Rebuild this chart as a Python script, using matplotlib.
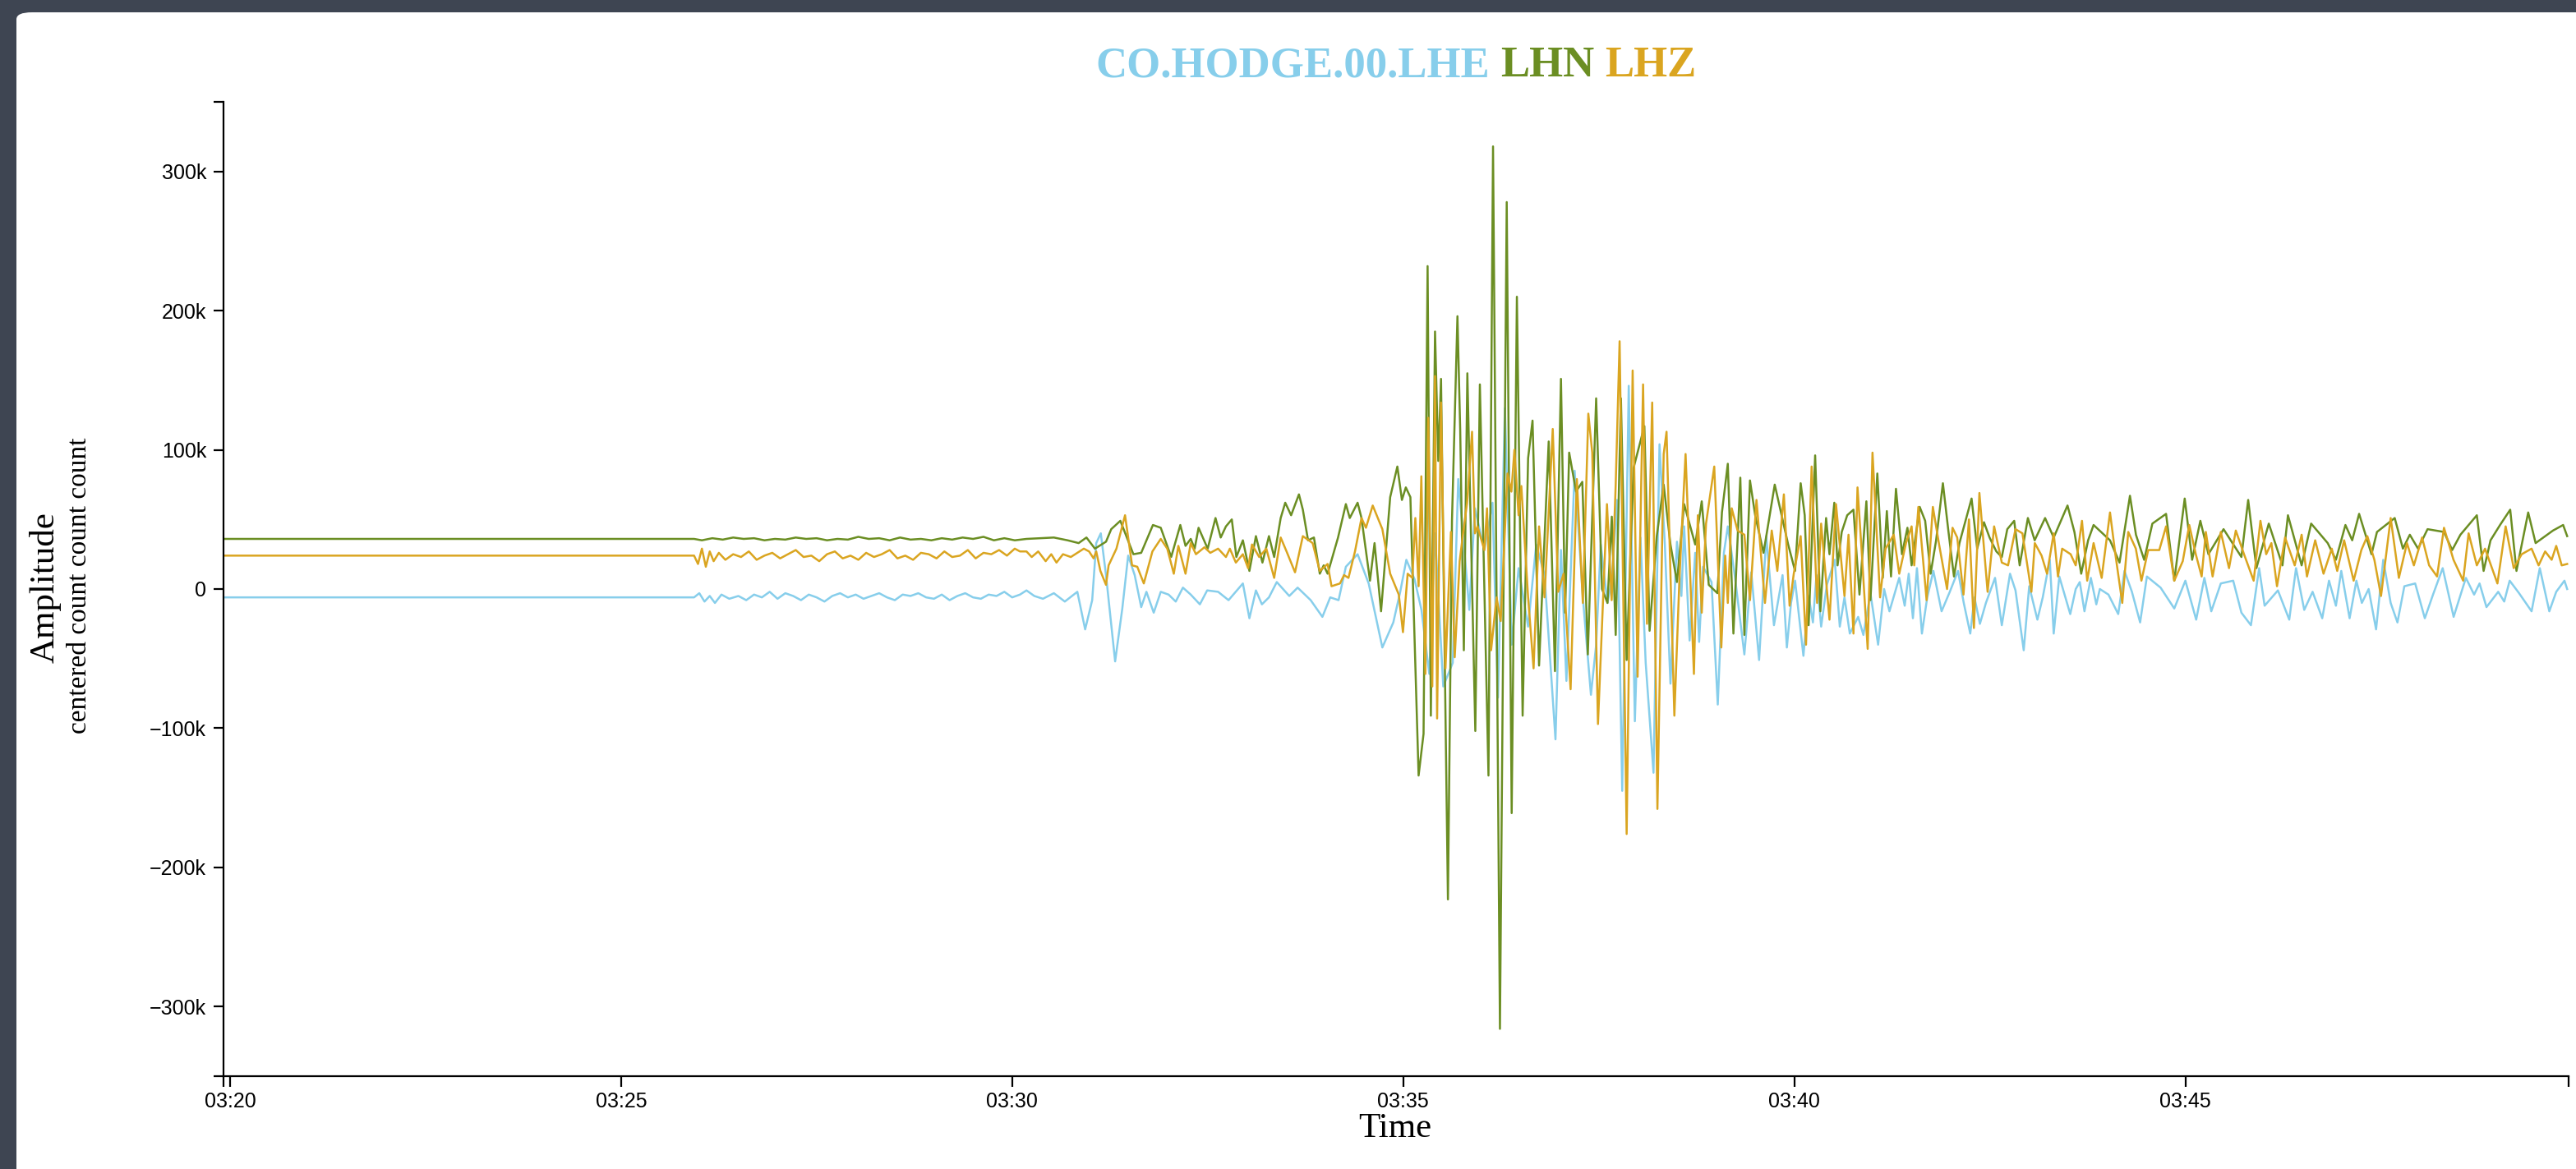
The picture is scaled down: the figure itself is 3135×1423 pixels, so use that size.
import matplotlib
matplotlib.use("Agg")
import matplotlib.pyplot as plt
import matplotlib.dates as mdates
from matplotlib.patches import FancyBboxPatch
from matplotlib.ticker import FuncFormatter, FixedLocator
from datetime import datetime, timedelta
import numpy as np

# seconds after 03:20:00, amplitudes in thousands of counts
lhe_t = [
    -5, 356, 360, 364, 368, 372, 377, 383, 390, 396,
    402, 408, 414, 420, 426, 432, 438, 444, 450, 456,
    462, 468, 474, 480, 486, 492, 498, 504, 510, 516,
    522, 528, 534, 540, 546, 552, 558, 564, 570, 576,
    582, 588, 594, 600, 606, 611, 617, 623.6, 632, 640.4,
    650, 656, 661.4, 664.5, 668, 672, 679, 684.5, 689, 694,
    699, 703, 708.6, 714, 720, 725.5, 731, 737, 744, 749.6,
    758, 766, 777, 782, 787, 791.6, 797, 803, 812.6, 819,
    829, 838, 844, 850.4, 856, 865, 873.5, 884, 892.4, 897.7,
    902.4, 908.7, 914, 920, 924.4, 930.7, 938, 942.2, 945.4, 950.7,
    955, 962.2, 968.5, 972.7, 978, 983.2, 988.5, 995.8, 1002, 1008.4,
    1016.8, 1021, 1025.2, 1031.5, 1037.8, 1044, 1048, 1051.5, 1056.7, 1060,
    1064, 1068, 1073, 1077.7, 1082, 1086, 1092, 1096.6, 1100.7, 1105,
    1110, 1113.4, 1115.5, 1119.7, 1124, 1127, 1130, 1136.5, 1141.3, 1146,
    1149, 1154.3, 1161.7, 1167, 1173, 1178.5, 1184.4, 1191, 1194.3, 1197.5,
    1200.6, 1207, 1211, 1214.3, 1217, 1220.6, 1225, 1231, 1234.9, 1238.5,
    1242.6, 1249, 1253, 1258.4, 1264.3, 1268.9, 1273, 1280.5, 1284.7, 1287.8,
    1291, 1294.1, 1297.9, 1302, 1306.7, 1313, 1319.3, 1325.6, 1330, 1335,
    1338.2, 1342.4, 1347, 1354, 1359.2, 1365.5, 1369.7, 1376, 1380.2, 1386.5,
    1390.6, 1396, 1399, 1403.3, 1411.7, 1415.9, 1419, 1422.6, 1427.5, 1431.7,
    1434.4, 1441, 1448.5, 1453.3, 1459, 1465.3, 1470.5, 1481, 1491.5, 1500,
    1508.3, 1514.6, 1519.9, 1527.2, 1536.7, 1543, 1550.3, 1556.6, 1560.8, 1571,
    1579.7, 1584.9, 1591.2, 1597.6, 1605, 1610.2, 1615.5, 1619.6, 1626, 1631.2,
    1635.4, 1640.6, 1646.3, 1651.8, 1657.5, 1662.7, 1668, 1676.3, 1683.7, 1690,
    1697.4, 1705.8, 1715.2, 1721.5, 1725.7, 1731, 1740, 1744.6, 1748.8, 1756,
    1765.6, 1771.9, 1779.2, 1784.5, 1790.8, 1792.9]
lhe_v = [
    -6, -6, -3, -9, -5, -10, -4, -7, -5, -8,
    -4, -6, -2, -7, -3, -5, -8, -4, -6, -9,
    -5, -3, -6, -4, -7, -5, -3, -6, -8, -4,
    -5, -3, -6, -7, -4, -8, -5, -3, -6, -7,
    -4, -5, -2, -6, -4, -1, -5, -7, -3, -9,
    -2, -29, -8, 33, 40, 10, -52, -14, 24, 10,
    -13, -2, -17, -2, -4, -9, 1, -4, -11, -1,
    -2, -8, 4, -21, -1, -11, -6, 5, -5, 1,
    -8, -20, -6, -8, 16, 25, 4, -42, -24, -2,
    21, 7, -15, -61, 40, -70, -53, 79, 45, -15,
    58, 28, 62, -78, 130, -40, 15, -27, 32, 10,
    -108, 28, -66, 85, -6, -76, -40, 32, -10, 6,
    64, -145, 146, -95, 37, -53, -132, 104, 32, -68,
    34, -5, 45, -37, 26, -38, 16, 5, -83, 26,
    45, 10, -47, 12, -51, 38, -26, 10, -42, -10,
    6, -48, -5, -24, 10, -27, 3, 21, -27, -6,
    -32, -20, -33, -3, -40, 0, -16, 8, -12, 11,
    -21, 15, -32, -6, 13, -16, -2, 13, -10, -32,
    -6, -25, -10, 8, -26, 11, -1, -44, 2, -22,
    -6, 21, -32, 9, -18, 0, 5, -16, 8, -11,
    0, -4, -18, 13, -2, -24, 9, 1, -14, 6,
    -22, 8, -16, 4, 6, -17, -26, 15, -12, -1,
    -22, 15, -15, -2, -21, 6, -12, 13, -21, 6,
    -10, 0, -29, 21, -10, -24, 2, 4, -21, -4,
    15, -20, 8, -4, 4, -13, -2, -9, 6, -3,
    -16, 15, -16, -2, 6, 0]

lhn_t = [
    -5, 356, 362, 370, 378, 386, 394, 402, 410, 418,
    426, 434, 442, 450, 458, 466, 474, 482, 490, 498,
    506, 514, 522, 530, 538, 546, 554, 562, 570, 578,
    586, 594, 602, 611, 632, 642.5, 651, 657, 663.5, 672,
    676, 683, 693, 699, 708, 714, 722, 729, 733, 737,
    740, 743, 750, 756, 760, 764, 768.5, 772, 777, 782,
    787, 792, 797, 801, 806, 809.5, 814, 820, 823, 827,
    831.5, 836, 839, 842, 850, 856, 859, 865, 868, 874.5,
    878, 883, 890, 895.5, 899, 902, 905.5, 911.8, 915.6, 918.7,
    921.2, 924.4, 926.9, 929, 931, 934.3, 937.4, 941.6, 943.7, 946.5,
    949.2, 955.3, 958.8, 965.4, 968.9, 974.2, 979.4, 983.2, 987.2, 991.6,
    995.8, 999.2, 1004.2, 1011.6, 1016.4, 1021, 1024.2, 1027.3, 1032.6, 1037.4,
    1041.6, 1048, 1052.5, 1056.7, 1060, 1063, 1067, 1071.4, 1076.7, 1085,
    1089, 1094.5, 1099.8, 1105, 1110, 1115.5, 1124, 1129, 1134.4, 1141,
    1144.5, 1149, 1153.3, 1158.6, 1161.7, 1166, 1170, 1176.4, 1185, 1195.3,
    1200.6, 1204.9, 1208, 1211, 1216, 1220, 1224.4, 1227, 1230.7, 1233.2,
    1236.4, 1240.6, 1245.4, 1250, 1255.3, 1258.4, 1263.7, 1267.9, 1271, 1274.2,
    1278, 1282.6, 1286.8, 1290, 1296.2, 1300.4, 1304.6, 1308.8, 1314, 1318.3,
    1322.5, 1326.7, 1336, 1340.3, 1345.5, 1349.8, 1355, 1359.2, 1363.4, 1368.7,
    1372.9, 1379.2, 1384.4, 1392.4, 1399, 1409.6, 1414.9, 1420.1, 1425.4, 1429.6,
    1442.2, 1449.5, 1457.5, 1462.1, 1468.4, 1474.7, 1485.2, 1491.5, 1499.5, 1505.2,
    1511.5, 1517.7, 1529.3, 1543, 1548.2, 1554.5, 1564, 1574.5, 1578.7, 1589.2,
    1596.5, 1609.2, 1615.5, 1622.8, 1628, 1633.3, 1642.8, 1647, 1660.6, 1666.9,
    1672.2, 1678.5, 1685.8, 1698.4, 1704.7, 1711, 1723.6, 1728.8, 1734.1, 1741.4,
    1749.2, 1754, 1763, 1768.7, 1782, 1789.8, 1792.9]
lhn_v = [
    36, 36, 35, 36.5, 35.5, 37, 36, 36.5, 35, 36,
    35.5, 37, 36, 36.5, 35, 36, 35.5, 37.5, 36, 36.5,
    35, 37, 35.5, 36, 35, 36.5, 35.5, 37, 36, 37.5,
    35, 36.5, 35, 36, 37, 35, 33, 37, 29, 34,
    43, 49, 25, 26, 46, 44, 23, 46, 31, 36,
    29, 44, 29, 51, 37, 45, 50, 23, 35, 13,
    38, 19, 38, 23, 51, 62, 53, 68, 57, 35,
    37, 11, 17, 11, 37, 61, 51, 62, 51, 6,
    33, -16, 66, 88, 64, 73, 66, -134, -104, 232,
    -91, 185, 92, 151, 11, -223, 49, 196, 115, -44,
    155, -102, 147, -134, 318, -316, 278, -161, 210, -91,
    94, 121, -55, 106, -59, 151, -17, 98, 70, 77,
    -47, 137, 0, -10, 52, -33, 137, -51, 87, 117,
    -30, 38, 75, 32, 5, 61, 32, 63, 3, -3,
    55, 90, -32, 80, -33, 78, 53, 26, 75, 32,
    13, 76, 53, -26, 96, -16, 51, 25, 62, 17,
    41, 53, 57, -4, 63, -8, 83, 8, 56, 9,
    72, 25, 44, 17, 59, 49, 11, 35, 76, 41,
    9, 33, 65, 29, 48, 37, 27, 23, 43, 49,
    17, 51, 35, 51, 37, 60, 41, 11, 35, 46,
    35, 19, 67, 39, 21, 47, 54, 6, 65, 21,
    49, 25, 43, 23, 64, 15, 47, 17, 53, 17,
    47, 33, 21, 46, 35, 54, 25, 41, 51, 29,
    39, 29, 43, 41, 28, 39, 53, 13, 35, 46,
    57, 13, 55, 33, 42, 46, 38]

lhz_t = [
    -5, 356, 359, 362, 365, 368, 371, 375, 380, 386,
    392, 398, 404, 410, 416, 422, 428, 434, 440, 446,
    452, 458, 464, 470, 476, 482, 488, 494, 500, 506,
    512, 518, 524, 530, 536, 542, 548, 554, 560, 566,
    572, 578, 584, 590, 596, 602, 606, 611, 615, 620,
    625.7, 630, 634, 639, 645, 655, 659, 662.5, 664.5, 667.7,
    672, 674, 680, 686.6, 692, 696, 701, 707.6, 714, 719,
    724, 727.5, 733, 737, 741, 747.5, 752, 758, 764, 767,
    771.6, 777, 781, 784, 789.5, 795, 801, 806, 810.5, 817,
    823, 830.5, 836, 842, 845, 851.5, 854.6, 858, 863, 868,
    871.4, 876.6, 884, 890, 896.6, 899.8, 903.4, 907, 909.3, 911.8,
    913.9, 917, 919.2, 922.3, 924.4, 926, 929, 932.4, 936.6, 939.5,
    943.3, 945.4, 949, 952.8, 955, 957, 962.2, 964.3, 967.4, 971.6,
    974.8, 980, 983, 985.3, 988.5, 990.6, 995.8, 1000, 1004.2, 1008.4,
    1014.7, 1018.9, 1023, 1028.4, 1033.2, 1037.8, 1042, 1045, 1049.4, 1056.3,
    1059.9, 1063, 1066, 1071.4, 1076, 1079.8, 1084, 1087, 1091, 1095,
    1099.8, 1102, 1108, 1112, 1116.6, 1123, 1126, 1129, 1132.3, 1138.6,
    1144, 1147, 1149, 1152, 1156.5, 1161.7, 1166, 1171, 1177.5, 1182.7,
    1187, 1192, 1196.4, 1199.6, 1204.9, 1209, 1213.3, 1217.5, 1220.6, 1227,
    1232, 1236, 1238.5, 1241.6, 1245.4, 1248.5, 1251.7, 1256.3, 1260, 1265.8,
    1270, 1276.3, 1280.5, 1285.7, 1290, 1292, 1295.2, 1301.5, 1306.3, 1310.9,
    1317.2, 1321.4, 1325, 1329.8, 1334, 1337.8, 1342, 1348.3, 1353.3, 1359.2,
    1364, 1369.7, 1375, 1381.9, 1384.5, 1389.7, 1393.9, 1399, 1402.3, 1405.5,
    1412, 1415.9, 1420.7, 1424.7, 1429.6, 1435.8, 1442.2, 1446.3, 1451.6, 1456.2,
    1462, 1466.3, 1471.5, 1480, 1485.2, 1491.5, 1498, 1503, 1508, 1512.5,
    1515.7, 1520.9, 1527.2, 1533.5, 1538.7, 1545, 1552.4, 1557.6, 1562, 1566,
    1570.3, 1576.5, 1583.9, 1589.2, 1593.3, 1599.6, 1606, 1612.3, 1616.5, 1621.8,
    1629.1, 1635, 1639.6, 1645, 1650.1, 1657.5, 1663.8, 1670, 1675.3, 1681.6,
    1687, 1693.1, 1698.4, 1705.7, 1713.1, 1717.3, 1723.6, 1729.9, 1739.4, 1745.7,
    1751.9, 1758, 1765.6, 1771, 1776, 1781, 1784.5, 1788.7, 1792.9]
lhz_v = [
    24, 24, 18, 29, 16, 27, 20, 26, 21, 25,
    23, 27, 21, 24, 26, 22, 25, 28, 23, 24,
    20, 25, 27, 22, 24, 21, 26, 23, 25, 28,
    22, 24, 21, 26, 25, 22, 27, 23, 24, 28,
    22, 26, 25, 28, 24, 29, 27, 27, 23, 27,
    20, 25, 19, 25, 23, 29, 27, 22, 27, 13,
    3, 17, 29, 53, 17, 16, 4, 27, 36, 29,
    11, 31, 11, 33, 25, 30, 26, 29, 23, 29,
    19, 25, 15, 32, 23, 29, 8, 37, 27, 12,
    38, 33, 13, 18, 2, 4, 10, 8, 27, 51,
    44, 60, 43, 11, -4, -31, 11, 8, 51, 2,
    81, -61, 123, -70, 153, -93, 134, -57, 41, -49,
    20, 36, 62, 113, 40, 45, 28, 58, -44, -6,
    -23, 83, 70, 100, 53, 74, -6, -57, 45, -6,
    115, -2, 11, -72, 79, -10, 126, 98, -97, 61,
    -8, 75, 178, -176, 157, -63, 147, -25, 134, -158,
    97, 113, -91, 10, 97, -61, 53, -17, 47, 88,
    -42, 24, -10, 58, 42, 39, -8, 64, -10, 42,
    13, 68, -12, 11, 38, -40, 88, -10, 47, -22,
    61, 20, -5, 39, -32, 73, 27, -43, 98, -6,
    29, 39, 11, 33, 45, 17, 59, -8, 59, 33,
    0, 44, 37, -4, 50, -28, 69, -2, 45, 19,
    17, 43, 40, -2, 33, 24, 11, 40, 9, 29,
    25, 17, 49, 6, 33, 8, 55, 25, -10, 41,
    29, 6, 28, 28, 45, 6, 20, 46, 25, 9,
    41, 9, 41, 15, 42, 25, 6, 49, 25, 33,
    2, 37, 17, 39, 9, 35, 11, 29, 13, 35,
    6, 28, 38, 21, -5, 51, 8, 33, 17, 37,
    17, 9, 44, 21, 6, 40, 17, 29, 4, 45,
    15, 25, 29, 17, 27, 21, 31, 17, 18]

channels = ["CO.HODGE.00.LHE", "LHN", "LHZ"]
colors = ["#87CEEB", "#6B8E23", "#DAA520"]
start = datetime(2020, 1, 1, 3, 20, 0)
x_range = (-5, 1794)
y_range = (-350000, 350000)

def to_time(secs):
    return [start + timedelta(seconds=s) for s in secs]

fig = plt.figure(figsize=(31.35, 14.23), dpi=100)
fig.patch.set_facecolor("#3e4552")
card = FancyBboxPatch((20 / 3135, -0.05), 1.1, 1.05 - 15 / 1423,
                      boxstyle="round,pad=0,rounding_size=0.006",
                      transform=fig.transFigure, facecolor="white",
                      edgecolor="none", zorder=-5)
fig.add_artist(card)

ax = fig.add_axes([272 / 3135, 1 - 1310 / 1423, (3126 - 272) / 3135, (1310 - 124) / 1423])
ax.set_facecolor("none")

for t, v, c in [(lhe_t, lhe_v, colors[0]), (lhn_t, lhn_v, colors[1]), (lhz_t, lhz_v, colors[2])]:
    ax.plot(to_time(t), np.array(v) * 1000, color=c, lw=1.8)

ax.set_xlim(to_time(x_range))
ax.set_ylim(*y_range)

ax.xaxis.set_major_locator(mdates.MinuteLocator(byminute=range(0, 60, 5)))
ax.xaxis.set_major_formatter(mdates.DateFormatter("%H:%M"))
ax.xaxis.set_minor_locator(FixedLocator(mdates.date2num(to_time(x_range))))
ax.set_yticks(np.arange(-300000, 300001, 100000))
ax.yaxis.set_minor_locator(FixedLocator(list(y_range)))

def kfmt(v, pos):
    if v == 0:
        return "0"
    s = "%dk" % abs(round(v / 1000))
    return ("\u2212" + s) if v < 0 else s

ax.yaxis.set_major_formatter(FuncFormatter(kfmt))

for side in ["top", "right"]:
    ax.spines[side].set_visible(False)
for side in ["left", "bottom"]:
    ax.spines[side].set_linewidth(1.6)

ax.tick_params(which="both", direction="out", length=9, width=1.6, color="black")
ax.tick_params(axis="y", which="major", pad=6, labelsize=18)
ax.tick_params(axis="x", which="major", pad=5, labelsize=18)
for lab in ax.get_xticklabels() + ax.get_yticklabels():
    lab.set_family("Liberation Sans")

# axis titles
serif = "Liberation Serif"
fig.text(55 / 3135, 1 - 715 / 1423, "Amplitude", rotation=90, ha="center", va="center",
         family=serif, fontsize=31)
fig.text(97 / 3135, 1 - 713 / 1423, "centered count count count", rotation=90,
         ha="center", va="center", family=serif, fontsize=24)
fig.text(1698 / 3135, 1 - 1374 / 1423, "Time", ha="center", va="center",
         family=serif, fontsize=31)

# multi-coloured title, centred over the axes
fig.canvas.draw()
rend = fig.canvas.get_renderer()
title_str = " ".join(channels)
size = 38

def width_px(s):
    tmp = fig.text(0, 0, s, family=serif, fontsize=size, fontweight="bold")
    w = tmp.get_window_extent(rend).width
    tmp.remove()
    return w

W = width_px(title_str)
cx = (272 + 3126) / 2
left = cx - W / 2
offsets = [0,
           width_px(" ".join(channels[:2])) - width_px(channels[1]),
           W - width_px(channels[2])]
ty = 1 - 80 / 1423
for name, c, off in zip(channels, colors, offsets):
    fig.text((left + off) / 3135, ty, name, color=c, family=serif, fontsize=size,
             fontweight="bold", ha="left", va="center")

fig.savefig("out.png", dpi=100, facecolor=fig.get_facecolor())
